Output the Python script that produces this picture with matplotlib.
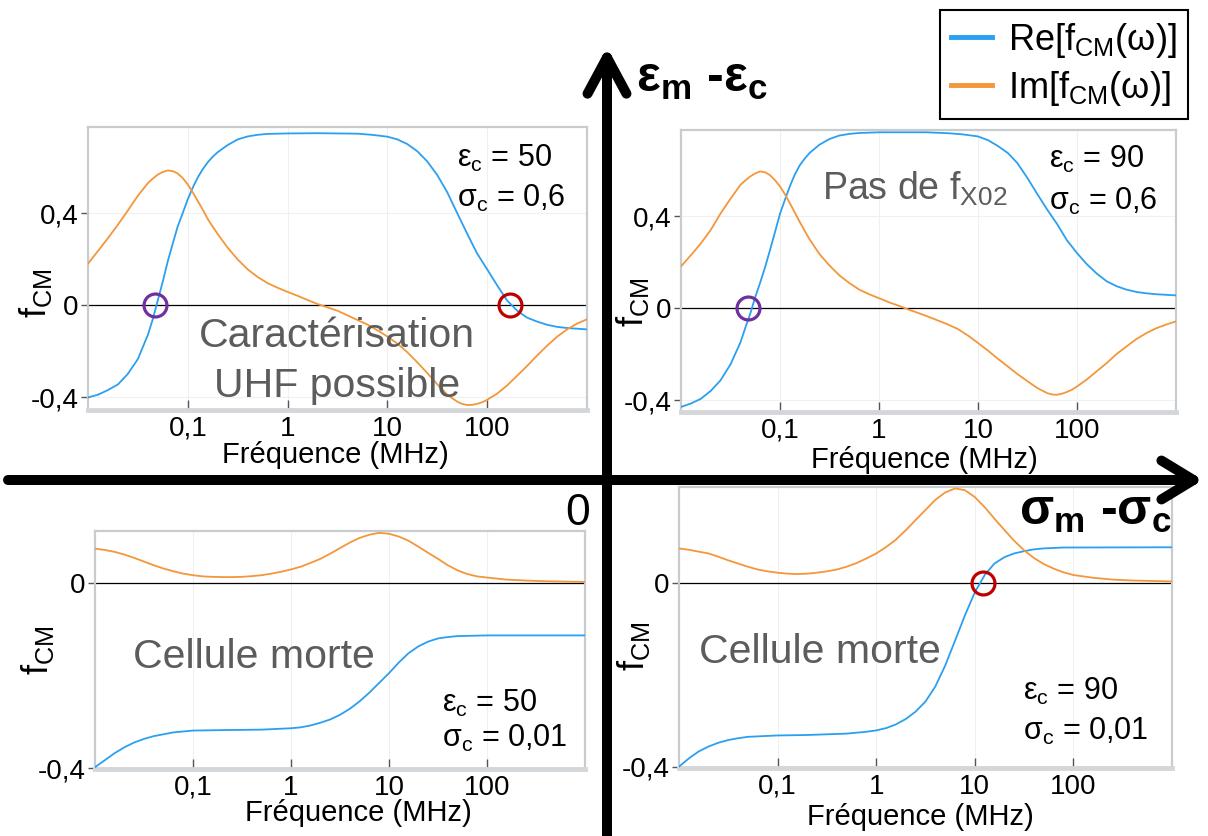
import matplotlib
matplotlib.use('Agg')
import matplotlib.pyplot as plt
from matplotlib import ticker
from matplotlib.patches import FancyArrowPatch

plt.rcParams['font.family'] = ['Liberation Sans', 'DejaVu Sans']
plt.rcParams['mathtext.fontset'] = 'custom'
plt.rcParams['mathtext.rm'] = 'Liberation Sans'
plt.rcParams['mathtext.it'] = 'Liberation Sans:italic'
plt.rcParams['mathtext.bf'] = 'Liberation Sans:bold'

W, H = 1208, 836
BLUE = '#2b9ff0'
ORANGE = '#f4963a'
GRAY_TXT = '#5c5c5c'
PURPLE = '#7030a0'
RED = '#c00000'

# ---------------- data (frequency in MHz, f_CM values) ----------------
# Top-left: eps_c = 50, sigma_c = 0.6
tl_re_f = [0.01, 0.0126, 0.0158, 0.02, 0.025, 0.0316, 0.0398, 0.0447, 0.05, 0.056, 0.063, 0.071, 0.079, 0.089,
           0.1, 0.112, 0.126, 0.141, 0.158, 0.178, 0.2, 0.25, 0.316, 0.398, 0.5, 0.631, 1, 2, 5, 7, 10, 12.6,
           15.8, 20, 25, 31.6, 39.8, 50, 63, 79, 100, 126, 158, 200, 251, 316, 398, 501, 631, 1000]
tl_re = [-0.402, -0.39, -0.37, -0.345, -0.30, -0.235, -0.13, -0.06, 0.02, 0.10, 0.19, 0.27, 0.34, 0.40,
         0.46, 0.51, 0.555, 0.59, 0.62, 0.645, 0.665, 0.695, 0.72, 0.733, 0.74, 0.744, 0.746, 0.747, 0.745, 0.74,
         0.732, 0.72, 0.70, 0.668, 0.625, 0.565, 0.49, 0.40, 0.31, 0.225, 0.155, 0.085, 0.02, -0.025, -0.055,
         -0.072, -0.086, -0.095, -0.1, -0.106]
tl_im_f = [0.01, 0.0126, 0.0158, 0.02, 0.025, 0.0316, 0.0398, 0.0447, 0.05, 0.056, 0.063, 0.071, 0.079, 0.089,
           0.1, 0.112, 0.126, 0.141, 0.158, 0.178, 0.2, 0.25, 0.316, 0.398, 0.5, 0.631, 0.794, 1, 1.26, 1.58, 2,
           2.51, 3.16, 3.98, 5, 6.31, 7.94, 10, 12.6, 15.8, 20, 25, 31.6, 39.8, 50, 56, 63, 71, 79, 89, 100, 126,
           158, 200, 251, 316, 398, 501, 631, 794, 1000]
tl_im = [0.18, 0.235, 0.29, 0.35, 0.41, 0.475, 0.53, 0.55, 0.567, 0.578, 0.585, 0.582, 0.572, 0.552,
         0.524, 0.49, 0.452, 0.415, 0.375, 0.34, 0.308, 0.25, 0.198, 0.155, 0.122, 0.095, 0.075, 0.057, 0.04,
         0.022, 0.004, -0.01, -0.025, -0.045, -0.065, -0.085, -0.11, -0.137, -0.168, -0.205, -0.25, -0.295,
         -0.345, -0.39, -0.42, -0.43, -0.435, -0.434, -0.43, -0.423, -0.412, -0.385, -0.35, -0.307, -0.265,
         -0.22, -0.177, -0.138, -0.106, -0.081, -0.062]

# Top-right: eps_c = 90, sigma_c = 0.6
tr_re_f = [0.01, 0.0126, 0.0158, 0.02, 0.025, 0.0316, 0.0398, 0.0447, 0.05, 0.056, 0.063, 0.071, 0.079, 0.089,
           0.1, 0.112, 0.126, 0.141, 0.158, 0.178, 0.2, 0.25, 0.316, 0.398, 0.5, 0.631, 1, 3, 5, 7, 10, 12.6,
           15.8, 20, 25, 31.6, 39.8, 50, 63, 79, 100, 126, 158, 200, 251, 316, 398, 501, 631, 1000]
tr_re = [-0.43, -0.415, -0.395, -0.36, -0.315, -0.245, -0.15, -0.085, -0.025, 0.045, 0.11, 0.18, 0.25, 0.33,
         0.41, 0.47, 0.53, 0.58, 0.62, 0.65, 0.675, 0.71, 0.735, 0.75, 0.757, 0.761, 0.764, 0.764, 0.76, 0.755,
         0.746, 0.73, 0.705, 0.674, 0.63, 0.565, 0.495, 0.428, 0.365, 0.295, 0.239, 0.19, 0.15, 0.116, 0.095,
         0.08, 0.07, 0.064, 0.06, 0.055]
tr_im_f = [0.01, 0.0126, 0.0158, 0.02, 0.025, 0.0316, 0.0398, 0.0447, 0.05, 0.056, 0.063, 0.071, 0.079, 0.089,
           0.1, 0.112, 0.126, 0.141, 0.158, 0.178, 0.2, 0.25, 0.316, 0.398, 0.5, 0.631, 0.794, 1, 1.26, 1.58, 2,
           2.51, 3.16, 3.98, 5, 6.31, 7.94, 10, 12.6, 15.8, 20, 25, 31.6, 39.8, 50, 56, 63, 71, 79, 89, 100, 126,
           158, 200, 251, 316, 398, 501, 631, 794, 1000]
tr_im = [0.181, 0.23, 0.28, 0.34, 0.41, 0.475, 0.535, 0.555, 0.572, 0.585, 0.594, 0.59, 0.578, 0.556,
         0.529, 0.495, 0.455, 0.415, 0.375, 0.335, 0.297, 0.235, 0.185, 0.142, 0.109, 0.08, 0.06, 0.043, 0.025,
         0.01, -0.007, -0.022, -0.038, -0.055, -0.072, -0.092, -0.12, -0.152, -0.185, -0.22, -0.254, -0.287,
         -0.318, -0.348, -0.37, -0.376, -0.377, -0.372, -0.365, -0.355, -0.341, -0.31, -0.275, -0.239, -0.2,
         -0.167, -0.135, -0.109, -0.088, -0.072, -0.058]

# Bottom-left: eps_c = 50, sigma_c = 0.01
bl_re_f = [0.01, 0.0126, 0.0158, 0.02, 0.025, 0.0316, 0.0398, 0.05, 0.063, 0.079, 0.1, 0.2, 0.5, 1, 1.26, 1.58,
           2, 2.51, 3.16, 3.98, 5, 6.31, 7.94, 10, 12.6, 15.8, 20, 25, 31.6, 39.8, 50, 79, 100, 1000]
bl_re = [-0.398, -0.383, -0.368, -0.355, -0.345, -0.337, -0.331, -0.327, -0.323, -0.321, -0.319, -0.318, -0.317,
         -0.314, -0.312, -0.308, -0.302, -0.295, -0.285, -0.272, -0.256, -0.237, -0.216, -0.195, -0.172, -0.152,
         -0.137, -0.127, -0.12, -0.117, -0.115, -0.114, -0.1135, -0.1135]
bl_im_f = [0.01, 0.0126, 0.0158, 0.02, 0.025, 0.0316, 0.0398, 0.05, 0.063, 0.079, 0.1, 0.126, 0.158, 0.2, 0.25,
           0.316, 0.398, 0.5, 0.631, 0.794, 1, 1.26, 1.58, 2, 2.51, 3.16, 3.98, 5, 6.31, 7.94, 10, 12.6, 15.8, 20,
           25, 31.6, 39.8, 50, 63, 79, 100, 158, 251, 398, 1000]
bl_im = [0.074, 0.071, 0.067, 0.061, 0.054, 0.046, 0.038, 0.031, 0.025, 0.02, 0.0165, 0.014, 0.013, 0.0125,
         0.0125, 0.013, 0.0145, 0.0165, 0.02, 0.024, 0.029, 0.035, 0.043, 0.052, 0.063, 0.075, 0.087, 0.097,
         0.104, 0.108, 0.106, 0.1, 0.091, 0.078, 0.065, 0.052, 0.038, 0.027, 0.019, 0.014, 0.0115, 0.007, 0.005,
         0.0035, 0.002]

# Bottom-right: eps_c = 90, sigma_c = 0.01
br_re_f = [0.01, 0.0126, 0.0158, 0.02, 0.025, 0.0316, 0.0398, 0.05, 0.079, 0.1, 0.2, 0.5, 0.794, 1, 1.26, 1.58,
           2, 2.51, 3.16, 3.98, 5, 6.31, 7.94, 10, 12.6, 15.8, 20, 25, 31.6, 39.8, 50, 79, 100, 1000]
br_re = [-0.40, -0.382, -0.367, -0.356, -0.348, -0.342, -0.338, -0.335, -0.333, -0.332, -0.331, -0.328, -0.324,
         -0.321, -0.316, -0.308, -0.296, -0.28, -0.258, -0.225, -0.18, -0.125, -0.07, -0.02, 0.018, 0.043, 0.057,
         0.065, 0.07, 0.074, 0.076, 0.078, 0.078, 0.0785]
br_im_f = [0.01, 0.0126, 0.0158, 0.02, 0.025, 0.0316, 0.0398, 0.05, 0.063, 0.079, 0.1, 0.126, 0.158, 0.2, 0.25,
           0.316, 0.398, 0.5, 0.631, 0.794, 1, 1.26, 1.58, 2, 2.51, 3.16, 3.98, 5, 6.31, 7.94, 10, 12.6, 15.8, 20,
           25, 31.6, 39.8, 50, 63, 79, 100, 158, 251, 398, 1000]
br_im = [0.076, 0.073, 0.069, 0.065, 0.058, 0.05, 0.043, 0.036, 0.03, 0.026, 0.023, 0.021, 0.02, 0.021, 0.023,
         0.026, 0.03, 0.036, 0.044, 0.054, 0.065, 0.079, 0.095, 0.116, 0.138, 0.16, 0.182, 0.198, 0.207, 0.203,
         0.188, 0.166, 0.141, 0.116, 0.093, 0.072, 0.055, 0.042, 0.032, 0.024, 0.018, 0.012, 0.008, 0.006, 0.004]

# Marked crossover frequencies (MHz)
tl_cross_low, tl_cross_high = 0.047, 170
tr_cross_low = 0.048
br_cross_high = 12

XTICKS = [0.1, 1, 10, 100]
XTICKLABELS = ['0,1', '1', '10', '100']
YTICKS = [0.4, 0, -0.4]
YTICKLABELS = ['0,4', '0', '-0,4']

# ---------------- figure ----------------
fig = plt.figure(figsize=(W / 100, H / 100), dpi=100)


def rect(l, r, t, b):
    return [l / W, 1 - b / H, (r - l) / W, (b - t) / H]


def T(x, y, s, **kw):
    return fig.text(x / W, 1 - y / H, s, **kw)


def make_ax(r, ylim, yticks, ylabels, ylab_xy, xlab_xy):
    ax = fig.add_axes(r)
    ax.set_xscale('log')
    ax.set_xlim(0.01, 1000)
    ax.set_ylim(*ylim)
    ax.set_xticks(XTICKS, XTICKLABELS)
    ax.xaxis.set_minor_locator(ticker.NullLocator())
    ax.set_yticks(yticks, ylabels)
    ax.tick_params(axis='x', direction='in', length=7, width=1, color='#555555', labelsize=20, pad=4)
    ax.tick_params(axis='y', direction='out', length=5, width=1, color='#555555', labelsize=20, pad=2)
    for s in ax.spines.values():
        s.set_color('#c8ccd0')
        s.set_linewidth(1.6)
    ax.spines['bottom'].set_linewidth(3.5)
    ax.spines['bottom'].set_color('#d4d7da')
    ax.grid(True, color='#f0f0f0', lw=0.8)
    ax.set_axisbelow(True)
    ax.axhline(0, color='black', lw=0.9, zorder=2)
    ax.set_ylabel('f$_\\mathrm{CM}$', fontsize=26, va='center')
    ax.yaxis.set_label_coords(*ylab_xy)
    ax.set_xlabel('Fréquence (MHz)', fontsize=21, va='center')
    ax.xaxis.set_label_coords(*xlab_xy)
    return ax


ax_tl = make_ax(rect(88, 587, 127, 410), (-0.4565, 0.774), YTICKS, YTICKLABELS, (-0.105, 0.413), (0.495, -0.159))
ax_tr = make_ax(rect(681, 1176, 130, 412), (-0.452, 0.774), YTICKS, YTICKLABELS, (-0.097, 0.39), (0.491, -0.170))
ax_bl = make_ax(rect(95, 585, 531, 769), (-0.402, 0.112), [0, -0.4], ['0', '-0,4'], (-0.117, 0.5), (0.537, -0.185))
ax_br = make_ax(rect(679, 1172, 487, 768), (-0.403, 0.210), [0, -0.4], ['0', '-0,4'], (-0.093, 0.432), (0.489, -0.174))

lw = 1.3
re_line, = ax_tl.plot(tl_re_f, tl_re, color=BLUE, lw=lw, label='Re[f$_\\mathrm{CM}$(ω)]', zorder=3)
im_line, = ax_tl.plot(tl_im_f, tl_im, color=ORANGE, lw=lw, label='Im[f$_\\mathrm{CM}$(ω)]', zorder=3)
ax_tr.plot(tr_re_f, tr_re, color=BLUE, lw=lw, zorder=3)
ax_tr.plot(tr_im_f, tr_im, color=ORANGE, lw=lw, zorder=3)
ax_bl.plot(bl_re_f, bl_re, color=BLUE, lw=lw, zorder=3)
ax_bl.plot(bl_im_f, bl_im, color=ORANGE, lw=lw, zorder=3)
ax_br.plot(br_re_f, br_re, color=BLUE, lw=lw, zorder=3)
ax_br.plot(br_im_f, br_im, color=ORANGE, lw=lw, zorder=3)

ck = dict(marker='o', ms=16.5, mfc='none', mew=2.3, ls='none', zorder=5)
ax_tl.plot([tl_cross_low], [0], mec=PURPLE, **ck)
ax_tl.plot([tl_cross_high], [0], mec=RED, **ck)
ax_tr.plot([tr_cross_low], [0], mec=PURPLE, **ck)
ax_br.plot([br_cross_high], [0], mec=RED, **ck)

# ---------------- annotations ----------------
ann = dict(fontsize=22, ha='left', va='baseline')
T(457, 167, 'ε$_\\mathrm{c}$ = 50', **ann)
T(457, 207, 'σ$_\\mathrm{c}$ = 0,6', **ann)
T(1049, 168, 'ε$_\\mathrm{c}$ = 90', **ann)
T(1049, 210, 'σ$_\\mathrm{c}$ = 0,6', **ann)
T(442, 712, 'ε$_\\mathrm{c}$ = 50', **ann)
T(442, 747, 'σ$_\\mathrm{c}$ = 0,01', **ann)
T(1023, 700, 'ε$_\\mathrm{c}$ = 90', **ann)
T(1023, 740, 'σ$_\\mathrm{c}$ = 0,01', **ann)

big = dict(fontsize=29.5, color=GRAY_TXT, va='baseline')
T(337, 347, 'Caractérisation', ha='center', **big)
T(337, 397, 'UHF possible', ha='center', **big)
T(822, 200, 'Pas de f$_\\mathrm{X02}$', ha='left', fontsize=27, color=GRAY_TXT, va='baseline')
T(133, 668, 'Cellule morte', ha='left', **big)
T(699, 663, 'Cellule morte', ha='left', **big)

T(636, 92, 'ε$_\\mathbf{m}$ -ε$_\\mathbf{c}$', fontsize=36, fontweight='bold', ha='left', va='baseline')
T(1019, 525, 'σ$_\\mathbf{m}$ -σ$_\\mathbf{c}$', fontsize=36, fontweight='bold', ha='left', va='baseline')
T(565, 525, '0', fontsize=32, ha='left', va='baseline')

# ---------------- quadrant axes (arrows) ----------------
def px(x, y):
    return (x / W, 1 - y / H)

va = FancyArrowPatch(px(607, 850), px(607, 47), transform=fig.transFigure,
                     arrowstyle='->,head_length=26,head_width=14', mutation_scale=1,
                     lw=7.2, color='black', shrinkA=0, shrinkB=0, capstyle='round', joinstyle='round')
ha = FancyArrowPatch(px(8, 480), px(1203, 480), transform=fig.transFigure,
                     arrowstyle='->,head_length=23,head_width=14', mutation_scale=1,
                     lw=7.2, color='black', shrinkA=0, shrinkB=0, capstyle='round', joinstyle='round')
fig.add_artist(va)
fig.add_artist(ha)

# ---------------- legend ----------------
leg = fig.legend([re_line, im_line], [re_line.get_label(), im_line.get_label()],
                 loc='upper right', bbox_to_anchor=(1188 / W, 1 - 10 / H), fontsize=26,
                 frameon=True, fancybox=False, edgecolor='black', framealpha=1,
                 handlelength=1.15, handletextpad=0.45, borderpad=0.3, labelspacing=0.25,
                 borderaxespad=0)
leg.get_frame().set_linewidth(1.5)
for l in leg.get_lines():
    l.set_linewidth(3.5)

fig.savefig('out.png', dpi=100)
